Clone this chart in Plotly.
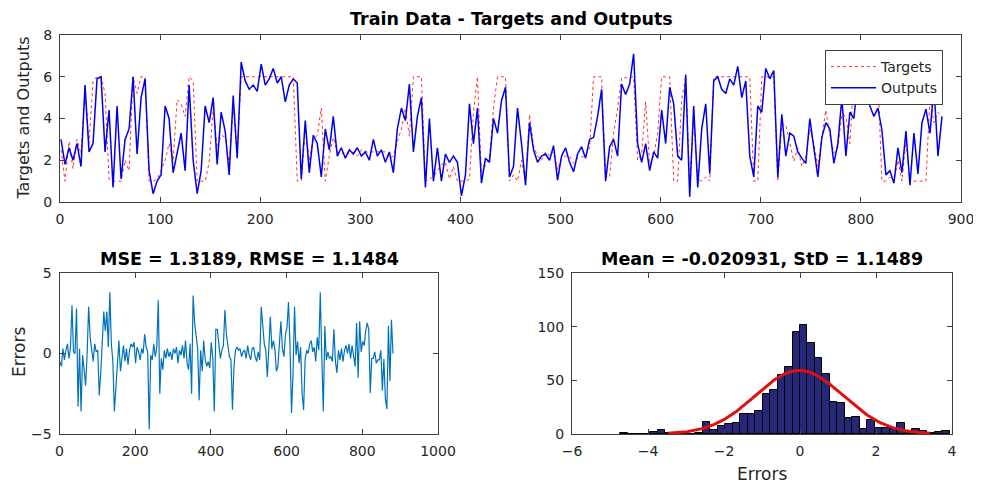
import numpy as np
import plotly.graph_objects as go

# ---------------- data ----------------
# network outputs, one value every 4th training sample (sample 1, 5, 9, ...)
outputs = [3.0, 1.8, 2.6, 2.0, 2.8, 1.7, 5.6, 2.4, 2.8, 5.9, 6.0, 2.4, 4.4, 0.7, 4.6, 1.1,
           3.0, 3.5, 6.0, 2.3, 5.0, 5.9, 1.5, 0.4, 1.0, 1.3, 4.6, 4.0, 1.4, 2.3, 3.3, 1.5,
           5.6, 2.0, 0.4, 1.5, 4.6, 3.8, 5.0, 1.8, 4.3, 3.4, 1.3, 5.1, 2.1, 6.7, 5.8, 5.4,
           5.6, 5.3, 6.6, 5.6, 5.9, 6.4, 5.7, 6.0, 4.8, 5.6, 5.9, 5.7, 1.1, 3.9, 1.4, 3.2,
           2.8, 1.2, 3.5, 2.5, 4.1, 2.2, 2.6, 2.1, 2.5, 2.3, 2.6, 2.2, 2.4, 2.0, 3.0, 2.2,
           2.5, 1.9, 2.4, 1.4, 3.5, 4.5, 3.9, 5.65, 2.4, 4.1, 5.0, 0.7, 4.0, 1.0, 2.6, 1.0,
           2.3, 1.9, 2.2, 1.9, 0.3, 1.3, 4.7, 2.8, 4.5, 0.9, 2.1, 1.9, 4.0, 3.3, 4.85, 5.5,
           1.2, 1.7, 4.5, 2.8, 0.8, 3.8, 2.5, 1.9, 2.2, 2.3, 2.0, 2.7, 1.05, 2.2, 2.6, 1.9,
           1.45, 2.3, 2.65, 2.1, 3.0, 3.1, 4.1, 5.4, 1.0, 2.65, 3.0, 2.2, 5.65, 5.15, 5.65, 7.1,
           2.8, 1.9, 2.8, 1.5, 2.4, 2.1, 4.4, 2.8, 5.5, 4.7, 2.2, 2.0, 6.1, 0.25, 4.6, 0.7,
           3.5, 4.7, 1.35, 5.8, 6.0, 5.4, 5.2, 5.9, 5.6, 6.5, 5.0, 5.8, 2.2, 1.2, 4.6, 4.3,
           6.4, 5.9, 6.3, 1.2, 4.2, 2.2, 3.3, 3.15, 2.4, 2.1, 1.85, 4.0, 2.6, 1.2, 3.1, 3.8,
           3.5, 1.85, 2.8, 5.0, 2.2, 4.3, 4.0, 5.9, 5.25, 5.5, 4.6, 4.1, 4.5, 3.45, 1.3, 1.5,
           0.9, 2.6, 1.4, 3.4, 0.8, 3.3, 1.35, 3.8, 4.45, 3.3, 5.5, 2.2, 4.1]

# errors (targets - outputs) at the same samples
errors = [-0.5, -0.8, 0.3, -0.4, 0.2, 0.6, -0.3, 0.4, 3.0, 0.1, 0.0, 2.8, -3.3, 0.3, -3.6, -0.1,
          -1.0, -2.0, 0.0, 2.9, 1.0, 0.1, -0.5, 0.6, 0.1, 0.2, -2.6, -1.2, 0.6, 2.6, 1.4, 2.6,
          0.4, 3.8, 0.6, -0.5, -3.6, -1.9, -0.5, 0.8, -1.1, -0.3, 0.5, -0.5, 0.3, -0.7, 0.2, 0.6,
          0.4, 0.7, -0.6, 0.4, 0.1, -0.4, 0.3, 0.0, 1.2, 0.4, 0.1, -4.7, -0.1, -0.4, 0.6, -0.2,
          0.4, 3.3, -2.5, -0.3, -1.0, 0.2, -0.3, 0.3, -0.2, 0.1, -0.4, 0.3, 0.0, 0.4, -0.6, 0.2,
          -0.1, 0.5, -0.3, 0.8, -0.6, -1.0, 0.6, -2.5, 3.6, 1.9, 1.0, 0.3, -2.9, 0.2, -1.1, 0.8,
          -0.4, -0.8, -0.5, -0.9, 0.7, -0.3, -3.6, 1.5, 1.5, 0.3, -0.3, 0.2, 0.5, 2.7, 1.15, 0.5,
          -0.2, -0.4, -3.5, -0.8, 0.2, 0.4, 0.2, 0.3, -0.2, 0.1, 0.2, -0.3, 0.5, -0.1, -0.4, 0.3,
          0.4, -0.2, -0.5, 0.1, -0.4, 2.9, 1.9, 0.6, 0.2, -1.45, 0.3, 2.3, 0.3, 0.8, 0.3, -1.1,
          -0.8, 0.4, 2.0, 0.3, -0.2, 1.2, 1.6, 3.2, 0.5, -3.7, -1.2, 2.9, -0.1, 0.75, -0.6, 0.4,
          -2.5, -3.5, -0.35, 0.2, 0.0, 0.6, 0.8, 0.1, 0.4, -0.5, 1.0, 0.2, 3.8, -0.2, -3.6, 1.7,
          -0.4, 0.1, -0.3, -0.2, -0.5, 1.5, -0.5, -1.2, 0.2, -0.4, 0.3, -0.5, 0.2, 0.5, 0.0, 0.6,
          -0.3, 0.5, -0.2, -0.8, 1.9, -1.5, 2.0, 0.1, 0.75, 0.5, 1.4, 1.9, 1.5, -2.45, -0.3, -0.3,
          0.1, -0.6, -0.4, -0.4, 0.2, -2.3, -0.35, -2.8, -3.45, 1.7, -1.7, 2.1, 0.0]

sample_step = 4
samples = [1 + sample_step * i for i in range(len(outputs))]
targets = [o + e for o, e in zip(outputs, errors)]

# error histogram (bin counts) and its bins
hist_counts = [1, 0, 0, 0, 2, 4, 1, 1, 0, 0, 1, 11, 4, 7, 9, 10, 19, 19, 21, 37, 41, 55,
               62, 95, 102, 85, 71, 56, 30, 29, 15, 16, 5, 13, 6, 6, 5, 10, 3, 5, 3, 1, 2, 3]
hist_first_edge = -4.728
hist_bin_width = 0.197
err_mean = -0.020931
err_std = 1.1489

top_title = "Train Data - Targets and Outputs"
mse_title = "MSE = 1.3189, RMSE = 1.1484"
hist_title = "Mean = -0.020931, StD = 1.1489"

# ---------------- figure ----------------
PAGE_OFFSET = 8          # the page body margin shifts the figure by this many pixels
W, H = 981 - PAGE_OFFSET, 484 - PAGE_OFFSET
FONT = "DejaVu Sans"
AX = "#404040"
TXT = "#262626"

bin_centers = [hist_first_edge + (j + 0.5) * hist_bin_width for j in range(len(hist_counts))]
fit_x = np.linspace(err_mean - 3 * err_std, err_mean + 3 * err_std, 200)
fit_y = (sum(hist_counts) * hist_bin_width / (err_std * np.sqrt(2 * np.pi))
         * np.exp(-0.5 * ((fit_x - err_mean) / err_std) ** 2))

fig = go.Figure()
fig.add_trace(go.Scatter(x=samples, y=targets, mode="lines", name="Targets",
                         line=dict(color="#ff3030", width=1, dash="dot"),
                         xaxis="x", yaxis="y"))
fig.add_trace(go.Scatter(x=samples, y=outputs, mode="lines", name="Outputs",
                         line=dict(color="#0000ee", width=1.5),
                         xaxis="x", yaxis="y"))
fig.add_trace(go.Scatter(x=samples, y=errors, mode="lines", showlegend=False,
                         line=dict(color="#0072BD", width=1.2),
                         xaxis="x2", yaxis="y2"))
fig.add_trace(go.Bar(x=bin_centers, y=hist_counts, width=hist_bin_width, showlegend=False,
                     marker=dict(color="#27277a", line=dict(color="black", width=1)),
                     xaxis="x3", yaxis="y3"))
fig.add_trace(go.Scatter(x=fit_x, y=fit_y, mode="lines", showlegend=False,
                         line=dict(color="#e01010", width=3),
                         xaxis="x3", yaxis="y3"))


def ax(domain, rng, dtick, anchor):
    return dict(domain=domain, range=rng, dtick=dtick, tick0=rng[0], anchor=anchor,
                ticks="inside", ticklen=5, tickcolor=AX, showline=True, linecolor=AX,
                linewidth=1, mirror="ticks", showgrid=False, zeroline=False,
                automargin=False,
                tickfont=dict(family=FONT, size=14, color=TXT), ticklabelstandoff=4)


def px_x(p):
    return (p - PAGE_OFFSET) / W


def px_y(p):
    return 1 - (p - PAGE_OFFSET) / H


fig.update_layout(
    template="none",
    width=W, height=H, margin=dict(l=0, r=0, t=0, b=0, pad=0), autosize=False,
    paper_bgcolor="white", plot_bgcolor="white", bargap=0,
    xaxis=ax([px_x(60), px_x(961)], [0, 900], 100, "y"),
    yaxis=ax([px_y(202), px_y(35)], [0, 8], 2, "x"),
    xaxis2=ax([px_x(59.5), px_x(438)], [0, 1000], 200, "y2"),
    yaxis2=ax([px_y(434), px_y(273)], [-5, 5], 5, "x2"),
    xaxis3=ax([px_x(572), px_x(952)], [-6, 4], 2, "y3"),
    yaxis3=ax([px_y(434), px_y(273)], [0, 150], 50, "x3"),
    legend=dict(x=px_x(943), y=px_y(50), xanchor="right", yanchor="top",
                bgcolor="white", bordercolor=AX, borderwidth=1, itemwidth=45,
                font=dict(family=FONT, size=14, color=TXT), tracegroupgap=0),
    showlegend=True,
)

ann = [
    dict(text="<b>%s</b>" % top_title, x=px_x(511), y=px_y(19), size=17.5),
    dict(text="<b>%s</b>" % mse_title, x=px_x(249), y=px_y(259), size=17.5),
    dict(text="<b>%s</b>" % hist_title, x=px_x(762), y=px_y(259), size=17.5),
    dict(text="Targets and Outputs", x=px_x(23), y=px_y(118.5), size=16, angle=-90),
    dict(text="Errors", x=px_x(19), y=px_y(352), size=17, angle=-90),
    dict(text="Errors", x=px_x(762), y=px_y(474), size=17),
]
fig.update_layout(annotations=[
    dict(text=a["text"], x=a["x"], y=a["y"], xref="paper", yref="paper",
         xanchor="center", yanchor="middle", showarrow=False,
         textangle=a.get("angle", 0),
         font=dict(family=FONT, size=a["size"], color="black" if "<b>" in a["text"] else TXT))
    for a in ann
])

fig.write_html("out.html")
